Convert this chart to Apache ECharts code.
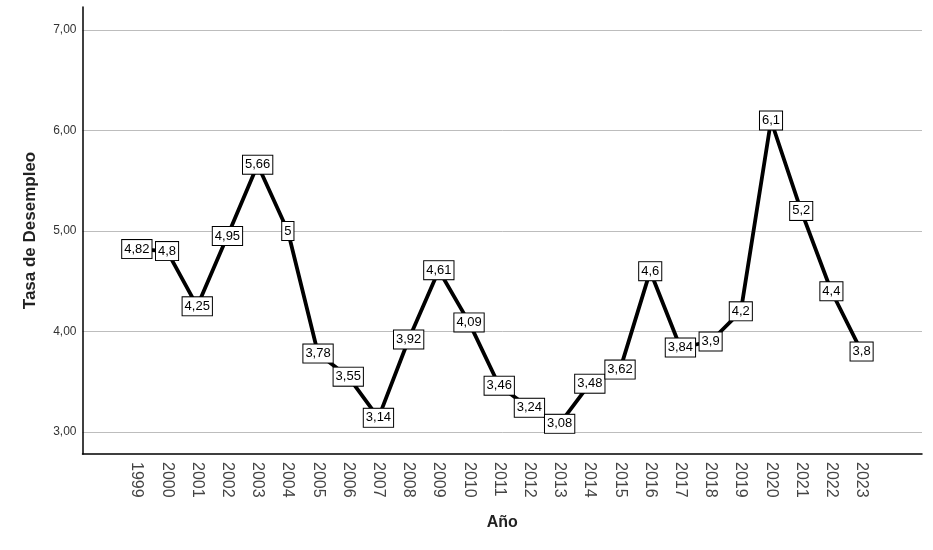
<!DOCTYPE html>
<html>
<head>
<meta charset="utf-8">
<script src="https://cdn.jsdelivr.net/npm/echarts@6/dist/echarts.min.js"></script>
<style>
  html, body { margin: 0; padding: 0; background: #fff; }
  #chart { width: 933px; height: 550px; }
</style>
</head>
<body>
<div id="chart"></div>
<script>
// data
var years = [1999, 2000, 2001, 2002, 2003, 2004, 2005, 2006, 2007, 2008, 2009, 2010,
  2011, 2012, 2013, 2014, 2015, 2016, 2017, 2018, 2019, 2020, 2021, 2022, 2023];
var tasa = [4.82, 4.8, 4.25, 4.95, 5.66, 5, 3.78, 3.55, 3.14, 3.92, 4.61, 4.09,
  3.46, 3.24, 3.08, 3.48, 3.62, 4.6, 3.84, 3.9, 4.2, 6.1, 5.2, 4.4, 3.8];
var yTicks = [3, 4, 5, 6, 7];

var points = years.map(function (y, i) { return [y, tasa[i]]; });
var comma = function (v) { return String(v).replace('.', ','); };

var chart = echarts.init(document.getElementById('chart'));
chart.setOption({
  animation: false,
  grid: { left: 82.5, right: 11, top: 7, bottom: 96 },
  xAxis: {
    type: 'value',
    min: 1997.2,
    max: 2025.0,
    name: 'Año',
    nameLocation: 'middle',
    nameGap: 61,
    nameTextStyle: { fontFamily: 'Arial', fontSize: 16, fontWeight: 'bold', color: '#222' },
    axisLine: { lineStyle: { color: '#000', width: 1.5 } },
    axisTick: { show: false },
    splitLine: { show: false },
    axisLabel: {
      customValues: years,
      rotate: -90,
      margin: 8,
      fontFamily: 'Arial',
      fontSize: 16,
      color: '#444',
      formatter: function (v) { return String(v); }
    }
  },
  yAxis: {
    type: 'value',
    min: 2.78,
    max: 7.23,
    name: 'Tasa de Desempleo',
    nameLocation: 'middle',
    nameGap: 44,
    nameTextStyle: { fontFamily: 'Arial', fontSize: 17, fontWeight: 'bold', color: '#222' },
    axisLine: { show: true, lineStyle: { color: '#000', width: 1.5 } },
    axisTick: { show: false, customValues: yTicks },
    axisLabel: {
      customValues: yTicks,
      margin: 6,
      fontFamily: 'Arial',
      fontSize: 12,
      color: '#333',
      formatter: function (v) { return v.toFixed(2).replace('.', ','); }
    },
    splitLine: {
      show: true,
      lineStyle: { color: '#bdbdbd', width: 1 }
    }
  },
  series: [{
    type: 'line',
    data: points,
    symbol: 'circle',
    symbolSize: 0.1,
    itemStyle: { color: '#000' },
    lineStyle: { color: '#000', width: 3.8, join: 'round' },
    label: {
      show: true,
      position: 'inside',
      formatter: function (p) { return comma(p.value[1]); },
      fontFamily: 'Arial',
      fontSize: 13,
      lineHeight: 15,
      color: '#000',
      backgroundColor: '#fff',
      borderColor: '#000',
      borderWidth: 1,
      padding: [2, 2, 1, 2]
    },
    z: 3
  }]
});
</script>
</body>
</html>
